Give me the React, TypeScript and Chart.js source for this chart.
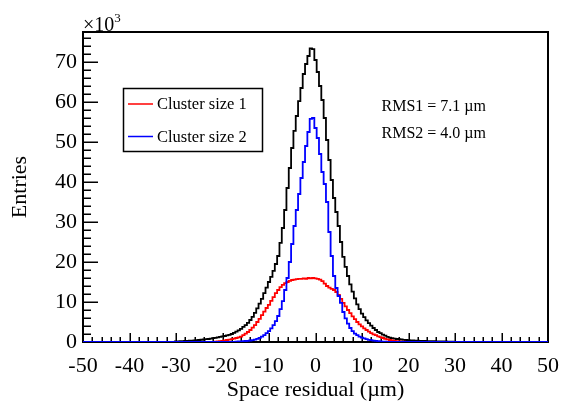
import React, { useEffect, useRef } from 'react';
import { Chart, registerables } from 'chart.js';

Chart.register(...registerables);

// ---------- data (values in units of 10^3 entries per 0.5 µm bin, keyed by bin centre) ----------
const X_MIN = -50;
const X_MAX = 50;
const Y_MIN = 0;
const Y_MAX = 77.5;
const BIN_WIDTH = 0.5;
const X_TICKS = [-50, -40, -30, -20, -10, 0, 10, 20, 30, 40, 50];
const Y_TICKS = [0, 10, 20, 30, 40, 50, 60, 70];
const X_MINOR_STEP = 2;
const Y_MINOR_STEP = 2;

// All clusters (black), bins centred at -30 ... 29.5
const ALL_FIRST_BIN = -30;
const ALL_VALUES = [
  0.15, 0.18, 0.2, 0.22, 0.25, 0.28, 0.32, 0.36, 0.4, 0.45,
  0.5, 0.56, 0.62, 0.7, 0.75, 0.85, 0.95, 1.05, 1.15, 1.3,
  1.4, 1.5, 1.65, 1.8, 2.0, 2.3, 2.6, 2.9, 3.3, 3.8,
  4.2, 4.8, 5.5, 6.3, 7.3, 8.4, 9.6, 10.8, 12.2, 13.6,
  15, 16.3, 17.8, 19.5, 21.5, 24.8, 28.5, 33, 38.5, 43.5,
  48.5, 52.8, 56.5, 60.2, 63.5, 67, 69.5, 71.5, 73.4, 73.2,
  70.5, 67.5, 64, 60.5, 56, 50.5, 45.5, 40.5, 36, 32.5,
  29, 25, 21.3, 18.8, 16.5, 14.4, 12.6, 10.9, 9.4, 8.2,
  7.1, 6.2, 5.4, 4.7, 4.1, 3.5, 3.0, 2.5, 2.2, 1.85,
  1.6, 1.3, 1.1, 0.95, 0.85, 0.75, 0.7, 0.62, 0.55, 0.5,
  0.45, 0.41, 0.38, 0.35, 0.32, 0.3, 0.28, 0.26, 0.24, 0.22,
  0.2, 0.19, 0.18, 0.16, 0.15, 0.14, 0.12, 0.11, 0.1, 0.1,
];

// Cluster size 1 (red), bins centred at -21.5 ... 19.5
const SIZE1_FIRST_BIN = -21.5;
const SIZE1_VALUES = [
  0.1, 0.15, 0.2, 0.3, 0.4, 0.5, 0.6, 0.7, 0.85, 1.0,
  1.15, 1.35, 1.7, 2.1, 2.5, 3.0, 3.6, 4.2, 5.0, 5.8,
  6.7, 7.6, 8.5, 9.3, 10.3, 11.2, 12.2, 13.0, 13.7, 14.3,
  14.7, 15.0, 15.3, 15.5, 15.6, 15.7, 15.8, 15.8, 15.9, 15.8,
  16.0, 15.9, 16.0, 15.9, 15.8, 15.6, 15.2, 14.6, 14.0, 13.6,
  13.3, 13.0, 12.5, 11.8, 10.8, 9.8, 8.9, 8.0, 7.2, 6.4,
  5.7, 5.0, 4.4, 3.9, 3.4, 3.0, 2.6, 2.2, 1.9, 1.7,
  1.4, 1.2, 1.0, 0.8, 0.65, 0.5, 0.4, 0.3, 0.2, 0.15,
  0.1, 0.06, 0.03,
];

// Cluster size 2 (blue), bins centred at -17.5 ... 15.5
const SIZE2_FIRST_BIN = -17.5;
const SIZE2_VALUES = [
  0.05, 0.08, 0.12, 0.15, 0.2, 0.25, 0.3, 0.38, 0.48, 0.6,
  0.8, 1.05, 1.35, 1.7, 2.2, 2.7, 3.4, 4.2, 5.2, 6.5,
  8.2, 10.2, 13, 16, 20, 24.5, 29, 33, 37, 41,
  45, 49, 52.5, 55.8, 56, 53.5, 51, 47, 42.5, 39.5,
  35, 27.5, 21.5, 16.5, 13.5, 11.5, 9.8, 7.5, 5.9, 4.6,
  3.5, 2.7, 2.1, 1.7, 1.35, 1.1, 0.9, 0.7, 0.55, 0.45,
  0.35, 0.27, 0.2, 0.15, 0.1, 0.06, 0.03,
];

const LEGEND_LABELS = ['Cluster size 1', 'Cluster size 2'];
const LEGEND_COLORS = ['#ff0000', '#0000ff'];
const RMS_TEXTS = ['RMS1 = 7.1 \u00b5m', 'RMS2 = 4.0 \u00b5m'];
const X_TITLE = 'Space residual (\u00b5m)';
const Y_TITLE = 'Entries';

const FONT = "'Liberation Serif', 'Times New Roman', serif";

function toPoints(first: number, values: number[]) {
  const pts: { x: number; y: number }[] = [];
  const n = Math.round((X_MAX - X_MIN) / BIN_WIDTH);
  for (let k = 0; k <= n; k++) {
    const c = X_MIN + k * BIN_WIDTH;
    const i = Math.round((c - first) / BIN_WIDTH);
    pts.push({ x: c, y: i >= 0 && i < values.length ? values[i] : 0 });
  }
  return pts;
}

const decorPlugin = {
  id: 'decor',
  beforeDatasetsDraw(chart: any) {
    const { ctx, chartArea: a, scales } = chart;
    const xs = scales.x;
    const ys = scales.y;
    ctx.save();
    ctx.strokeStyle = '#000';
    ctx.lineWidth = 2;
    ctx.strokeRect(a.left, a.top, a.right - a.left, a.bottom - a.top);
    ctx.lineWidth = 1.5;
    ctx.beginPath();
    for (let v = X_MIN; v <= X_MAX; v += X_MINOR_STEP) {
      const px = Math.round(xs.getPixelForValue(v)) + 0.25;
      const len = v % 10 === 0 ? 9 : 5;
      ctx.moveTo(px, a.bottom);
      ctx.lineTo(px, a.bottom - len);
    }
    for (let v = Y_MIN; v <= Y_MAX; v += Y_MINOR_STEP) {
      const py = Math.round(ys.getPixelForValue(v)) + 0.25;
      const len = v % 10 === 0 ? 15 : 8;
      ctx.moveTo(a.left, py);
      ctx.lineTo(a.left + len, py);
    }
    ctx.stroke();
    ctx.restore();
  },
  afterDatasetsDraw(chart: any) {
    const { ctx, chartArea: a } = chart;
    ctx.save();
    ctx.fillStyle = '#000';
    // x10^3 multiplier
    ctx.textBaseline = 'alphabetic';
    ctx.textAlign = 'left';
    ctx.font = `20px ${FONT}`;
    ctx.fillText('\u00d710', a.left, 31);
    const w = ctx.measureText('\u00d710').width;
    ctx.font = `13px ${FONT}`;
    ctx.fillText('3', a.left + w, 21.5);

    // legend box
    const bx = 123.5, by = 88.5, bw = 139, bh = 63;
    ctx.fillStyle = '#fff';
    ctx.fillRect(bx, by, bw, bh);
    ctx.strokeStyle = '#000';
    ctx.lineWidth = 1.5;
    ctx.strokeRect(bx, by, bw, bh);
    ctx.font = `16.5px ${FONT}`;
    ctx.textBaseline = 'middle';
    const rows = [104, 136.5];
    LEGEND_LABELS.forEach((lab, i) => {
      ctx.strokeStyle = LEGEND_COLORS[i];
      ctx.lineWidth = 1.5;
      ctx.beginPath();
      ctx.moveTo(128, rows[i]);
      ctx.lineTo(153, rows[i]);
      ctx.stroke();
      ctx.fillStyle = '#000';
      ctx.fillText(lab, 157, rows[i] + 1);
    });

    // RMS texts
    ctx.font = `16px ${FONT}`;
    const rmsRows = [107, 133.5];
    RMS_TEXTS.forEach((t, i) => {
      ctx.fillText(t, 381.5, rmsRows[i]);
    });
    ctx.restore();
  },
};

export default function App() {
  const canvasRef = useRef<HTMLCanvasElement | null>(null);

  useEffect(() => {
    const canvas = canvasRef.current;
    if (!canvas) return;
    const tickFont = { family: FONT, size: 22 };
    const lineDs = (label: string, data: any, color: string) => ({
      label,
      data,
      borderColor: color,
      borderWidth: 1.8,
      stepped: 'middle',
      pointRadius: 0,
      fill: false,
    });
    const chart = new Chart(canvas, {
      type: 'line',
      data: {
        datasets: [
          lineDs(LEGEND_LABELS[1], toPoints(SIZE2_FIRST_BIN, SIZE2_VALUES), LEGEND_COLORS[1]),
          lineDs(LEGEND_LABELS[0], toPoints(SIZE1_FIRST_BIN, SIZE1_VALUES), LEGEND_COLORS[0]),
          lineDs('All', toPoints(ALL_FIRST_BIN, ALL_VALUES), '#000000'),
        ],
      },
      options: {
        animation: false,
        responsive: false,
        devicePixelRatio: 1,
        events: [],
        layout: { padding: { left: 0, right: 35, top: 32, bottom: 0 } },
        plugins: { legend: { display: false }, tooltip: { enabled: false } },
        scales: {
          x: {
            type: 'linear',
            min: X_MIN,
            max: X_MAX,
            afterBuildTicks: (s: any) => {
              s.ticks = X_TICKS.map((v) => ({ value: v }));
            },
            afterFit: (s: any) => {
              s.height = 70;
            },
            grid: { display: false, drawTicks: false },
            border: { display: false },
            ticks: {
              font: tickFont,
              color: '#000',
              padding: 11,
              maxRotation: 0,
              autoSkip: false,
              callback: (v: any) => String(v),
            },
            title: {
              display: true,
              text: X_TITLE,
              font: tickFont,
              color: '#000',
              padding: { top: 0, bottom: 9 },
            },
          },
          y: {
            type: 'linear',
            min: Y_MIN,
            max: Y_MAX,
            afterBuildTicks: (s: any) => {
              s.ticks = Y_TICKS.map((v) => ({ value: v }));
            },
            afterFit: (s: any) => {
              s.width = 83;
            },
            grid: { display: false, drawTicks: false },
            border: { display: false },
            ticks: {
              font: tickFont,
              color: '#000',
              padding: 6,
              autoSkip: false,
              callback: (v: any) => String(v),
            },
            title: {
              display: true,
              text: Y_TITLE,
              font: tickFont,
              color: '#000',
              padding: { top: 7.5, bottom: 0 },
            },
          },
        },
      },
      plugins: [decorPlugin],
    } as any);
    return () => chart.destroy();
  }, []);

  return (
    <div style={{ position: 'absolute', left: 0, top: 0, width: 583, height: 412, background: '#fff' }}>
      <canvas ref={canvasRef} width={583} height={412} style={{ display: 'block', width: 583, height: 412 }} />
    </div>
  );
}
